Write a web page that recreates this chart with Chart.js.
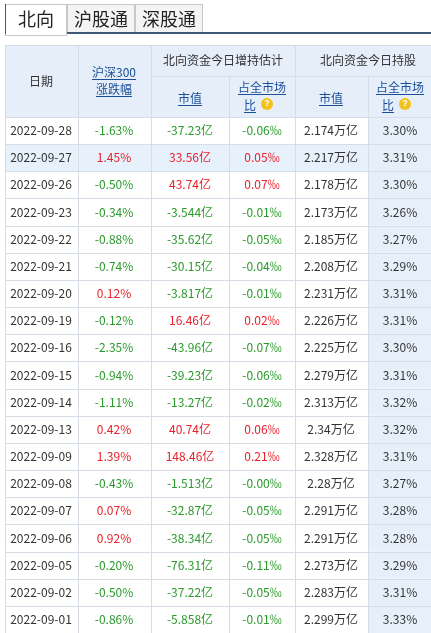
<!DOCTYPE html><html><head><meta charset="utf-8">
<script src="https://cdn.jsdelivr.net/npm/chart.js@4"></script>
<style>html,body{margin:0;padding:0;background:#fff}#c{display:block}</style></head><body>
<div style="width:431px;height:633px"><canvas id="c" width="431" height="633"></canvas></div>
<script>
const dates=["2022-09-28","2022-09-27","2022-09-26","2022-09-23","2022-09-22","2022-09-21","2022-09-20","2022-09-19","2022-09-16","2022-09-15","2022-09-14","2022-09-13","2022-09-09","2022-09-08","2022-09-07","2022-09-06","2022-09-05","2022-09-02","2022-09-01"];
const hs300=[-1.63,1.45,-0.50,-0.34,-0.88,-0.74,0.12,-0.12,-2.35,-0.94,-1.11,0.42,1.39,-0.43,0.07,0.92,-0.20,-0.50,-0.86];
const flowVal=["-37.23","33.56","43.74","-3.544","-35.62","-30.15","-3.817","16.46","-43.96","-39.23","-13.27","40.74","148.46","-1.513","-32.87","-38.34","-76.31","-37.22","-5.858"];
const flowPct=["-0.06","0.05","0.07","-0.01","-0.05","-0.04","-0.01","0.02","-0.07","-0.06","-0.02","0.06","0.21","-0.00","-0.05","-0.05","-0.11","-0.05","-0.01"];
const holdVal=["2.174","2.217","2.178","2.173","2.185","2.208","2.231","2.226","2.225","2.279","2.313","2.34","2.328","2.28","2.291","2.291","2.273","2.283","2.299"];
const holdPct=["3.30","3.31","3.30","3.26","3.27","3.29","3.31","3.31","3.30","3.31","3.32","3.32","3.31","3.27","3.28","3.28","3.29","3.31","3.33"];
const RED="#e8212a",GREEN="#2a9a2a",TXT="#333",LINE="#d6dde6",BLUE="#1a4f9a";
const cols=[5,78,151,229,295,368,431];
const F="12px 'Noto Sans CJK SC','Noto Sans',sans-serif";
const tablePlugin={id:'tbl',afterDraw(ch){
 const c=ch.ctx,y=ch.scales.y;const top=ch.chartArea.top;
 const rh=y.getPixelForValue(1)-y.getPixelForValue(0);
 c.save();c.textAlign='center';c.textBaseline='middle';
 // tabs
 c.fillStyle='#fff';c.fillRect(0,0,431,45);
 const tabs=[[5,67,"北向"],[67,135,"沪股通"],[135,203,"深股通"]];
 tabs.forEach((t,i)=>{c.fillStyle=i?'#f4f4f4':'#fff';c.fillRect(t[0],4,t[1]-t[0],i?29:31);
  c.strokeStyle='#c8c8c8';c.lineWidth=1;c.strokeRect(t[0]+.5,4.5,t[1]-t[0]-1,i?28:31);
  c.fillStyle='#222';c.font="18px 'Noto Sans CJK SC',sans-serif";c.fillText(t[2],(t[0]+t[1])/2,19);});
 c.fillStyle='#3c5a78';c.fillRect(67,32,364,2);c.fillRect(5,4,1,30);
 // header
 c.fillStyle='#e6eff9';c.fillRect(5,45,426,top-45);
 c.strokeStyle=LINE;c.lineWidth=1;
 const hl=(x1,x2,yy)=>{c.beginPath();c.moveTo(x1,yy+.5);c.lineTo(x2,yy+.5);c.stroke();};
 const vl=(x,y1,y2)=>{c.beginPath();c.moveTo(x+.5,y1);c.lineTo(x+.5,y2);c.stroke();};
 hl(5,431,45);hl(151,431,76);
 cols.slice(0,6).forEach((x,i)=>vl(x,i<3||i==4?45:76,633));
 c.font=F;c.fillStyle=TXT;
 c.fillText("日期",41,81);c.fillText("北向资金今日增持估计",223,60);c.fillText("北向资金今日持股",368,60);
 const link=(s,x,yy)=>{c.fillStyle=BLUE;c.fillText(s,x,yy);const w=c.measureText(s).width;c.fillRect(x-w/2,yy+7,w,1);};
 link("沪深300",114,72);link("涨跌幅",114,89);
 link("市值",190,98);link("市值",331,98);
 [262,400].forEach(x=>{link("占全市场",x,87);link("比",x-12,105);
  c.fillStyle='#f2c21a';c.beginPath();c.arc(x+5,104,6,0,7);c.fill();c.fillStyle='#fff';c.font="bold 9px sans-serif";c.fillText("?",x+5,104);c.font=F;});
 // rows
 dates.forEach((d,i)=>{const cy=y.getPixelForValue(i);const t=cy-rh/2;
  c.fillStyle=i==1?'#e6f1fb':'#fff';c.fillRect(5,t,363,rh);
  c.fillStyle='#e6f0fa';c.fillRect(368,t,63,rh);
  c.strokeStyle=LINE;hl(5,431,Math.round(t));
  cols.slice(0,6).forEach(x=>vl(x,t,t+rh));
  c.font=F;
  c.fillStyle=TXT;c.fillText(d,41,cy);
  const col=v=>parseFloat(v)>0?RED:GREEN;
  c.fillStyle=col(hs300[i]);c.fillText(hs300[i].toFixed(2)+"%",114,cy);
  c.fillStyle=col(flowVal[i]);c.fillText(flowVal[i]+"亿",190,cy);
  c.fillStyle=parseFloat(flowPct[i])>0?RED:GREEN;c.fillText(flowPct[i]+"‰",262,cy);
  c.fillStyle=TXT;c.fillText(holdVal[i]+"万亿",331,cy);c.fillText(holdPct[i]+"%",400,cy);
 });
 c.restore();}};
new Chart(document.getElementById('c'),{type:'bar',
 data:{labels:dates,datasets:[{data:dates.map(()=>0),backgroundColor:'rgba(0,0,0,0)'}]},
 options:{indexAxis:'y',responsive:false,animation:false,devicePixelRatio:1,
  layout:{padding:{top:117,left:5,right:0,bottom:-1}},
  plugins:{legend:{display:false},tooltip:{enabled:false}},
  scales:{y:{display:false,offset:true},x:{display:false}}},
 plugins:[tablePlugin]});
</script></body></html>
